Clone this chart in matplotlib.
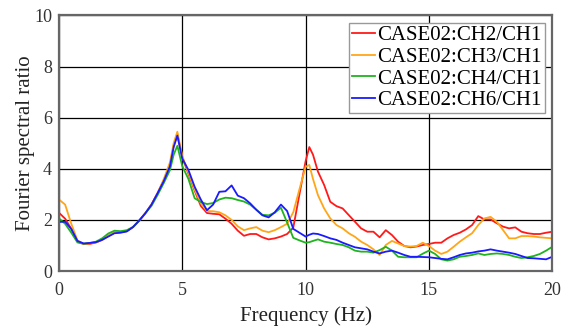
import matplotlib
matplotlib.use("Agg")
import matplotlib.pyplot as plt

plt.rcParams["font.family"] = ["Liberation Serif", "DejaVu Serif"]

# frequency axis (Hz), a few extra points near the two main peaks
freq = [0.0, 0.25, 0.5, 0.75, 1.0, 1.25, 1.5, 1.75, 2.0, 2.25, 2.5, 2.75,
        3.0, 3.25, 3.5, 3.75, 4.0, 4.25, 4.5, 4.65, 4.8, 5.0, 5.25, 5.5,
        5.75, 6.0, 6.25, 6.5, 6.75, 7.0, 7.25, 7.5, 7.75, 8.0, 8.25, 8.5,
        8.75, 9.0, 9.25, 9.5, 9.75, 10.0, 10.15, 10.3, 10.5, 10.75, 11.0,
        11.25, 11.5, 11.75, 12.0, 12.25, 12.5, 12.75, 13.0, 13.25, 13.5,
        13.75, 14.0, 14.25, 14.5, 14.75, 15.0, 15.25, 15.5, 15.75, 16.0,
        16.25, 16.5, 16.75, 17.0, 17.25, 17.5, 17.75, 18.0, 18.25, 18.5,
        18.75, 19.0, 19.25, 19.5, 19.75, 20.0]

ch2 = [2.28, 2.05, 1.65, 1.15, 1.06, 1.06, 1.12, 1.22, 1.38, 1.50, 1.52, 1.56,
       1.72, 1.97, 2.26, 2.60, 3.05, 3.55, 4.15, 4.90, 5.35, 4.45, 3.80, 3.15,
       2.55, 2.27, 2.24, 2.22, 2.05, 1.85, 1.58, 1.38, 1.45, 1.45, 1.32, 1.24,
       1.28, 1.35, 1.45, 1.70, 3.00, 4.30, 4.85, 4.55, 3.89, 3.37, 2.71,
       2.54, 2.45, 2.19, 1.93, 1.67, 1.54, 1.54, 1.32, 1.60, 1.41,
       1.15, 0.98, 0.93, 0.96, 1.02, 1.06, 1.11, 1.11, 1.28, 1.41,
       1.50, 1.63, 1.80, 2.15, 2.02, 2.02, 1.87, 1.74, 1.67, 1.71,
       1.54, 1.48, 1.45, 1.45, 1.50, 1.54]

ch3 = [2.80, 2.60, 1.85, 1.20, 1.06, 1.08, 1.13, 1.22, 1.38, 1.52, 1.53, 1.57,
       1.72, 1.97, 2.26, 2.60, 3.05, 3.60, 4.25, 5.00, 5.45, 4.50, 3.85, 3.20,
       2.65, 2.35, 2.34, 2.30, 2.18, 2.00, 1.75, 1.60, 1.67, 1.72, 1.58, 1.52,
       1.60, 1.72, 1.85, 2.30, 3.20, 4.08, 4.15, 3.60, 2.97, 2.45, 2.06,
       1.80, 1.67, 1.48, 1.34, 1.15, 1.02, 0.85, 0.63, 1.02, 1.18,
       1.08, 0.98, 0.96, 0.98, 1.11, 0.98, 0.80, 0.67, 0.76, 0.95,
       1.15, 1.32, 1.48, 1.80, 2.06, 2.12, 1.93, 1.61, 1.28, 1.28,
       1.37, 1.37, 1.35, 1.32, 1.30, 1.28]

ch4 = [2.06, 1.85, 1.50, 1.12, 1.07, 1.10, 1.15, 1.28, 1.47, 1.58, 1.56, 1.60,
       1.72, 1.97, 2.26, 2.55, 2.98, 3.45, 3.95, 4.55, 4.90, 4.10, 3.60, 2.85,
       2.70, 2.62, 2.66, 2.80, 2.87, 2.85, 2.78, 2.72, 2.60, 2.40, 2.20, 2.18,
       2.28, 2.48, 1.90, 1.30, 1.20, 1.11, 1.13, 1.18, 1.24, 1.15, 1.11,
       1.06, 1.02, 0.93, 0.80, 0.76, 0.76, 0.72, 0.82, 0.95, 0.80,
       0.56, 0.54, 0.54, 0.54, 0.68, 0.80, 0.67, 0.46, 0.41, 0.46,
       0.56, 0.59, 0.63, 0.69, 0.63, 0.67, 0.69, 0.67, 0.63, 0.56,
       0.51, 0.54, 0.59, 0.67, 0.80, 0.95]

ch6 = [1.92, 1.93, 1.65, 1.18, 1.08, 1.10, 1.13, 1.22, 1.35, 1.48, 1.50, 1.55,
       1.72, 1.97, 2.26, 2.60, 3.05, 3.52, 4.10, 4.85, 5.30, 4.40, 3.95, 3.30,
       2.80, 2.38, 2.60, 3.10, 3.12, 3.35, 2.95, 2.85, 2.65, 2.40, 2.18, 2.10,
       2.30, 2.60, 2.35, 1.65, 1.50, 1.35, 1.42, 1.47, 1.45, 1.37, 1.28,
       1.22, 1.11, 1.02, 0.93, 0.89, 0.85, 0.76, 0.69, 0.76, 0.80,
       0.72, 0.63, 0.56, 0.56, 0.55, 0.54, 0.51, 0.48, 0.46, 0.54,
       0.63, 0.69, 0.72, 0.77, 0.80, 0.85, 0.80, 0.76, 0.72, 0.67,
       0.59, 0.51, 0.50, 0.48, 0.46, 0.56]

labels = ["CASE02:CH2/CH1", "CASE02:CH3/CH1", "CASE02:CH4/CH1", "CASE02:CH6/CH1"]
colors = ["#ff1a1a", "#ffa617", "#1fb31f", "#1a1aff"]

fig = plt.figure(figsize=(5.67, 3.27), dpi=100)
ax = fig.add_axes([0.104, 0.171, 0.870, 0.782])

for ys, lab, c in zip([ch2, ch3, ch4, ch6], labels, colors):
    ax.plot(freq, ys, color=c, lw=1.3, label=lab)

ax.set_xlim(0, 20)
ax.set_ylim(0, 10)
ax.set_xticks([0, 5, 10, 15, 20])
ax.set_yticks([0, 2, 4, 6, 8, 10])
ax.grid(True, color="black", lw=0.9)
ax.set_axisbelow(True)
ax.tick_params(length=0, labelsize=13, labelcolor="#333333")
ax.tick_params(axis="x", pad=8)
ax.tick_params(axis="y", pad=5)
for s in ax.spines.values():
    s.set_color("#666666")
    s.set_linewidth(1.6)

ax.set_xlabel("Frequency (Hz)", fontsize=15, color="#222222", labelpad=5)
ax.set_ylabel("Fourier spectral ratio", fontsize=15, color="#222222", labelpad=-1)

leg = ax.legend(loc="upper right", fontsize=15, handlelength=1.1, handletextpad=0.1,
                borderpad=0.15, labelspacing=0.1, borderaxespad=0.35,
                fancybox=False, framealpha=1)
leg.get_frame().set_edgecolor("#999999")
leg.get_frame().set_linewidth(1.0)

fig.savefig("out.png", dpi=100)
